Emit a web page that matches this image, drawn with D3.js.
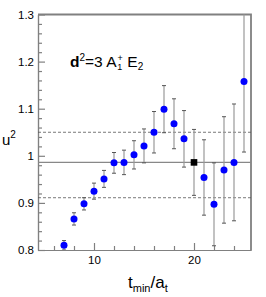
<!DOCTYPE html>
<html>
<head>
  <meta charset='utf-8'>
  <title>u2 vs tmin</title>
  <script src='https://cdn.jsdelivr.net/npm/d3@7/dist/d3.min.js'></script>
  <style>
    body { margin: 0; background: #fff; }
    svg { display: block; font-family: 'Liberation Sans', Arial, sans-serif; }
  </style>
</head>
<body>
  <svg id='plot' width='266' height='297'></svg>
  <script>
    // data
    const tmin = [7, 8, 9, 10, 11, 12, 13, 14, 15, 16, 17, 18, 19, 20, 21, 22, 23, 24, 25];
    const u2 = [0.810, 0.866, 0.898, 0.925, 0.951, 0.985, 0.986, 1.002, 1.021, 1.050,
                1.099, 1.068, 1.036, 0.986, 0.954, 0.897, 0.970, 0.986, 1.158];
    const u2Err = [0.010, 0.013, 0.013, 0.017, 0.018, 0.022, 0.026, 0.030, 0.036, 0.044,
                   0.050, 0.053, 0.060, 0.070, 0.080, 0.088, 0.113, 0.124, 0.150];
    const chosenTmin = 20;           // drawn as a black square
    const fitValue = 0.986;          // solid line
    const fitBand = [0.911, 1.050];  // dashed lines
    const xMajor = [10, 20];
    const xMinor = [6, 8, 12, 14, 16, 18, 22, 24];
    const yMajor = [0.8, 0.9, 1.0, 1.1, 1.2, 1.3];
    const yMinor = [0.82, 0.84, 0.86, 0.88, 0.92, 0.94, 0.96, 0.98, 1.02, 1.04, 1.06, 1.08,
                    1.12, 1.14, 1.16, 1.18, 1.22, 1.24, 1.26, 1.28];

    const svg = d3.select('#plot');
    const frameL = 38, frameR = 251, frameT = 14.5, frameB = 250;
    const x = d3.scaleLinear().domain([4.4, 25.7]).range([frameL, frameR]);
    const y = d3.scaleLinear().domain([0.8, 1.3]).range([frameB, frameT]);
    const axisColor = '#808080';

    svg.append('defs').append('clipPath').attr('id', 'frame-clip')
      .append('rect').attr('x', frameL).attr('y', frameT)
      .attr('width', frameR - frameL).attr('height', frameB - frameT);

    // minor and major ticks, pointing inward
    const gx = svg.append('g').attr('transform', `translate(0,${frameB})`);
    gx.append('g').call(d3.axisBottom(x).tickValues(xMinor).tickSize(-4).tickSizeOuter(0).tickFormat(''));
    gx.append('g').call(d3.axisBottom(x).tickValues(xMajor).tickSize(-7).tickSizeOuter(0).tickPadding(6)
      .tickFormat(d3.format('d')));
    const gy = svg.append('g').attr('transform', `translate(${frameL},0)`);
    gy.append('g').call(d3.axisLeft(y).tickValues(yMinor).tickSize(-4).tickSizeOuter(0).tickFormat(''));
    gy.append('g').call(d3.axisLeft(y).tickValues(yMajor).tickSize(-7).tickSizeOuter(0).tickPadding(4)
      .tickFormat(d => d3.format('~g')(d)));
    svg.selectAll('.domain, .tick line').attr('stroke', axisColor).attr('stroke-width', 1.2);
    svg.selectAll('.tick text').attr('font-size', 11.5).attr('fill', '#000')
      .attr('font-family', "'Liberation Sans', Arial, sans-serif");

    // top and right frame
    svg.append('path')
      .attr('d', `M${frameL},${frameT}H${frameR}V${frameB}`)
      .attr('fill', 'none').attr('stroke', axisColor).attr('stroke-width', 1.8);

    const plot = svg.append('g').attr('clip-path', 'url(#frame-clip)');

    // fit value and its band
    plot.append('line')
      .attr('x1', frameL).attr('x2', frameR)
      .attr('y1', y(fitValue)).attr('y2', y(fitValue))
      .attr('stroke', '#888').attr('stroke-width', 1.4);
    plot.selectAll('line.band').data(fitBand).join('line')
      .attr('class', 'band')
      .attr('x1', frameL).attr('x2', frameR)
      .attr('y1', d => y(d)).attr('y2', d => y(d))
      .attr('stroke', '#555').attr('stroke-width', 0.8).attr('stroke-dasharray', '3,2');

    const points = tmin.map((t, i) => ({ t: t, v: u2[i], e: u2Err[i] }));

    // error bars
    const bars = plot.selectAll('g.err').data(points).join('g').attr('class', 'err');
    bars.append('line')
      .attr('x1', d => x(d.t)).attr('x2', d => x(d.t))
      .attr('y1', d => y(d.v - d.e)).attr('y2', d => y(d.v + d.e))
      .attr('stroke', '#999').attr('stroke-width', 1.2);
    bars.selectAll('line.cap').data(d => [
        { t: d.t, v: d.v - d.e }, { t: d.t, v: d.v + d.e }])
      .join('line').attr('class', 'cap')
      .attr('x1', d => x(d.t) - 2).attr('x2', d => x(d.t) + 2)
      .attr('y1', d => y(d.v)).attr('y2', d => y(d.v))
      .attr('stroke', '#555').attr('stroke-width', 1);

    // markers
    plot.selectAll('circle.pt').data(points.filter(d => d.t !== chosenTmin)).join('circle')
      .attr('class', 'pt')
      .attr('cx', d => x(d.t)).attr('cy', d => y(d.v)).attr('r', 3.5)
      .attr('fill', '#0000ff');
    plot.selectAll('rect.pt').data(points.filter(d => d.t === chosenTmin)).join('rect')
      .attr('class', 'pt')
      .attr('x', d => x(d.t) - 3.3).attr('y', d => y(d.v) - 3.3)
      .attr('width', 6.6).attr('height', 6.6).attr('fill', '#000');

    // annotation d^2=3 A1+ E2
    const note = svg.append('text').attr('x', 70).attr('y', 67).attr('font-size', 15.5);
    note.append('tspan').attr('font-weight', 'bold').text('d');
    note.append('tspan').attr('font-size', 10).attr('dy', -6).text('2');
    note.append('tspan').attr('dy', 6).text('=3 A');
    note.append('tspan').attr('font-size', 9).attr('dy', -6).attr('dx', 1).text('+');
    note.append('tspan').attr('font-size', 9).attr('dx', -5.5).attr('dy', 9).text('1');
    note.append('tspan').attr('dy', -3).attr('dx', 5).text('E');
    note.append('tspan').attr('font-size', 10).attr('dy', 3).text('2');

    // y title
    const yt = svg.append('text').attr('x', 2).attr('y', 145).attr('font-size', 15);
    yt.append('tspan').text('u');
    yt.append('tspan').attr('font-size', 10).attr('dy', -7).text('2');

    // x title t_min/a_t
    const xt = svg.append('text').attr('x', 128).attr('y', 288).attr('font-size', 17);
    xt.append('tspan').text('t');
    xt.append('tspan').attr('font-size', 11).attr('dy', 4).text('min');
    xt.append('tspan').attr('dy', -4).text('/a');
    xt.append('tspan').attr('font-size', 11).attr('dy', 4).text('t');
  </script>
</body>
</html>
